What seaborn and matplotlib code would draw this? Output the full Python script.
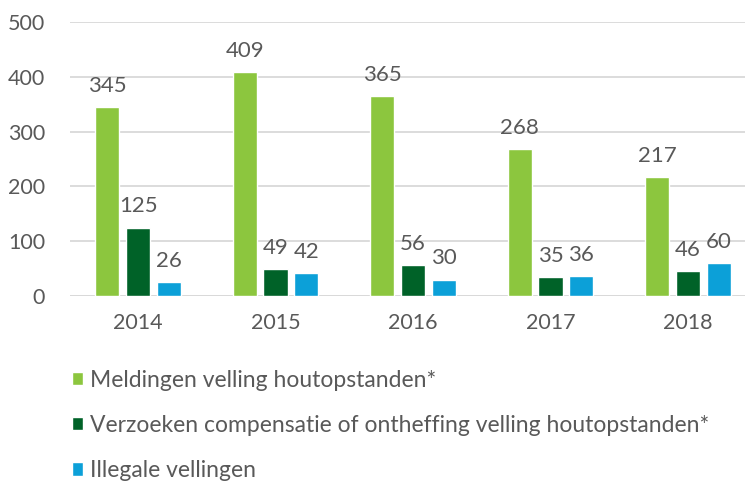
import pandas as pd
import numpy as np
import matplotlib
matplotlib.use("Agg")
import matplotlib.pyplot as plt
import seaborn as sns

years = ["2014", "2015", "2016", "2017", "2018"]
series = [
    "Meldingen velling houtopstanden*",
    "Verzoeken compensatie of ontheffing velling houtopstanden*",
    "Illegale vellingen",
]
meldingen = [345, 409, 365, 268, 217]
verzoeken = [125, 49, 56, 35, 46]
illegaal = [26, 42, 30, 36, 60]
colors = ["#8cc63e", "#006228", "#0ca0d8"]

df = pd.DataFrame({
    "Jaar": years * 3,
    "Serie": [series[0]] * 5 + [series[1]] * 5 + [series[2]] * 5,
    "Aantal": meldingen + verzoeken + illegaal,
})

sns.set_style("white")
plt.rcParams["font.family"] = ["Lato", "DejaVu Sans"]
text_color = "#595959"

fig = plt.figure(figsize=(7.49, 4.82), dpi=100)
ax = fig.add_axes([70 / 749, 186 / 482, 675 / 749, 274 / 482])

sns.barplot(data=df, x="Jaar", y="Aantal", hue="Serie", palette=colors,
            width=0.67, gap=0.21, saturation=1, legend=True, ax=ax)

for cont in ax.containers:
    ax.bar_label(cont, padding=8, fontsize=16, color=text_color)

ax.set_ylim(0, 500)
ax.set_xlim(-0.495, 4.415)
ax.set_yticks(range(0, 501, 100))
ax.yaxis.grid(True, color="#d9d9d9", linewidth=1.3)
ax.set_axisbelow(True)
for s in ax.spines.values():
    s.set_visible(False)
ax.axhline(0, color="#d9d9d9", linewidth=1.3, zorder=0)
ax.tick_params(axis="y", length=0, pad=18, labelsize=15.5, labelcolor=text_color)
ax.tick_params(axis="x", length=0, pad=12, labelsize=15.5, labelcolor=text_color)
ax.set_xlabel("")
ax.set_ylabel("")

handles, labels = ax.get_legend_handles_labels()
ax.get_legend().remove()
fig.legend(handles, labels, loc="upper left", bbox_to_anchor=(72 / 749, 1 - 370 / 482),
           frameon=False, fontsize=16.5, labelcolor=text_color, handlelength=0.5,
           handleheight=0.5, handletextpad=0.3, labelspacing=1.05, borderpad=0,
           borderaxespad=0)

fig.savefig("out.png", dpi=100)
